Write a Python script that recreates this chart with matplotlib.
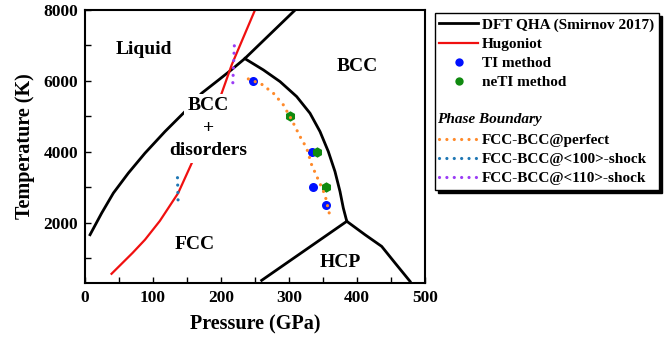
import numpy as np
import matplotlib
matplotlib.use("Agg")
import matplotlib.pyplot as plt
import matplotlib.ticker as mticker
from matplotlib.lines import Line2D

plt.rcParams["font.family"] = ["Liberation Serif", "DejaVu Serif"]
plt.rcParams["font.weight"] = "bold"

# ---------- Daten ----------
# Schmelzlinie (Liquid | FCC/BCC) bis Tripelpunkt, dann Liquid | BCC
melt_p = [7.4, 24.5, 41.7, 63.7, 88.2, 117.6, 147, 171.6, 196, 215.7, 235, 309]
melt_t = [1662, 2273, 2837, 3400, 3963, 4572, 5135, 5654, 6020, 6320, 6630, 8000]
# FCC | BCC
fb_p = [235, 262.3, 286.8, 311.3, 330.9, 345.6, 357.8, 367.6, 375, 379.9, 385]
fb_t = [6630, 6310, 5981, 5558, 5088, 4572, 4009, 3446, 2882, 2413, 2040]
# FCC | HCP
fh_p = [259.8, 385]
fh_t = [375, 2040]
# HCP | BCC
hb_p = [385, 411.8, 436.3, 456, 478]
hb_t = [2040, 1662, 1333, 864, 347]

# Hugoniot
hug_p = [39, 70, 88.2, 110, 137, 157, 180, 201, 215.7, 250]
hug_t = [560, 1150, 1521, 2050, 2837, 3682, 4650, 5654, 6451, 8000]

# TI / neTI Punkte
ti_p = [246.5, 334, 335, 355]
ti_t = [6000, 4000, 3000, 2500]
neti_p = [302, 340.5, 355]
neti_t = [5000, 4000, 3000]

# Phasengrenzen (gepunktet)
perf_p = [240.2, 259.8, 277, 291.7, 304, 316.2, 326, 333.3, 343.1, 352.9, 360.3]
perf_t = [6056, 5906, 5653, 5324, 4901, 4432, 4103, 3634, 3211, 2789, 2178]
s100_p = [136, 137]
s100_t = [3270, 2507]
s110_p = [219.6, 217.2]
s110_t = [6990, 5860]

c_orange = "#ff8a2a"
c_blue100 = "#1f77b4"
c_purple = "#9a3cf5"
c_red = "#f01010"
dots = (0, (0.01, 2.3))

fig = plt.figure(figsize=(6.7, 3.45), dpi=100)
ax = fig.add_axes([0.1269, 0.1797, 0.5074, 0.7913])

for px, ty in [(melt_p, melt_t), (fb_p, fb_t), (fh_p, fh_t), (hb_p, hb_t)]:
    ax.plot(px, ty, color="black", lw=2.0, zorder=2, solid_joinstyle="round")
ax.plot(hug_p, hug_t, color=c_red, lw=1.6, zorder=2)

ax.plot(ti_p, ti_t, "o", color="#0010ff", ms=6.5, mec="none", zorder=3)
ax.plot(neti_p, neti_t, "h", color="#108a10", ms=7.5, mec="none", zorder=3)

ax.plot(perf_p, perf_t, color=c_orange, lw=2.3, ls=dots,
        dash_capstyle="round", zorder=4)
ax.plot(s100_p, s100_t, color=c_blue100, lw=2.3, ls=dots,
        dash_capstyle="round", zorder=4)
ax.plot(s110_p, s110_t, color=c_purple, lw=2.3, ls=dots,
        dash_capstyle="round", zorder=4)

# Beschriftungen der Phasen
txt = dict(fontsize=14, fontweight="bold", ha="center", va="center")
ax.text(87, 6890, "Liquid", **txt)
ax.text(400, 6400, "BCC", **txt)
box = dict(facecolor="white", edgecolor="none", pad=2.5)
ax.text(181, 5300, "BCC", bbox=box, zorder=5, **txt)
ax.text(181, 4670, "+", bbox=dict(facecolor="white", edgecolor="none", pad=4),
        zorder=5, **txt)
ax.text(181, 4030, "disorders", bbox=box, zorder=5, **txt)
ax.text(162, 1380, "FCC", **txt)
ax.text(376, 870, "HCP", **txt)

ax.set_xlim(0, 500)
ax.set_ylim(300, 8000)
ax.xaxis.set_major_locator(mticker.MultipleLocator(100))
ax.xaxis.set_minor_locator(mticker.MultipleLocator(50))
ax.yaxis.set_major_locator(mticker.MultipleLocator(2000))
ax.yaxis.set_minor_locator(mticker.MultipleLocator(1000))
ax.tick_params(which="both", direction="in", length=4, width=1,
               labelsize=12.5, pad=5)
for s in ax.spines.values():
    s.set_linewidth(1.5)
ax.set_xlabel("Pressure (GPa)", fontsize=14.5, fontweight="bold", labelpad=6)
ax.set_ylabel("Temperature (K)", fontsize=14.5, fontweight="bold", labelpad=6)

# Legende
handles = [
    Line2D([], [], color="black", lw=2.0),
    Line2D([], [], color=c_red, lw=1.6),
    Line2D([], [], ls="none", marker="o", color="#0010ff", ms=6, mec="none"),
    Line2D([], [], ls="none", marker="o", color="#108a10", ms=6, mec="none"),
    Line2D([], [], ls="none"),
    Line2D([], [], ls="none"),
    Line2D([], [], color=c_orange, lw=2.3, ls=dots, dash_capstyle="round"),
    Line2D([], [], color=c_blue100, lw=2.3, ls=dots, dash_capstyle="round"),
    Line2D([], [], color=c_purple, lw=2.3, ls=dots, dash_capstyle="round"),
]
labels = ["DFT QHA (Smirnov 2017)", "Hugoniot", "TI method", "neTI method",
          " ", " ", "FCC-BCC@perfect", "FCC-BCC@<100>-shock",
          "FCC-BCC@<110>-shock"]
leg = fig.legend(handles, labels, loc="upper left",
                 bbox_to_anchor=(0.649, 0.9614), bbox_transform=fig.transFigure,
                 fontsize=11, frameon=True, fancybox=False,
                 shadow={"color": "black", "alpha": 1.0},
                 borderpad=0.3, borderaxespad=0, handlelength=2.5,
                 handletextpad=0.3, labelspacing=0.36)
leg.get_frame().set_edgecolor("black")
leg.get_frame().set_linewidth(1.0)
fig.text(437 / 670, 1 - 120 / 345, "Phase Boundary", fontsize=11,
         fontweight="bold", style="italic", ha="left", va="center", zorder=10)

fig.savefig("out.png", dpi=100)
